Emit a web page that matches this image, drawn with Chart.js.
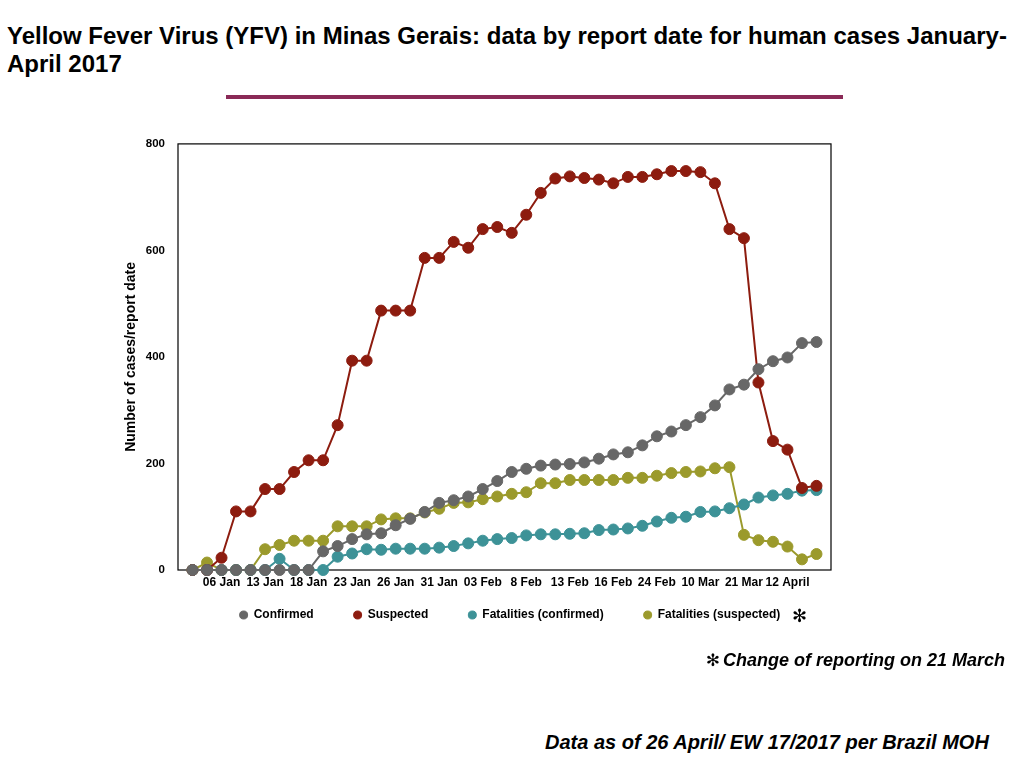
<!DOCTYPE html>
<html>
<head>
<meta charset="utf-8">
<script src="https://cdn.jsdelivr.net/npm/chart.js@4.4.1/dist/chart.umd.min.js"></script>
<style>
  html, body { margin: 0; padding: 0; background: #fff; width: 1024px; height: 768px; overflow: hidden; }
  body { position: relative; font-family: "Liberation Sans", Arial, Helvetica, sans-serif; color: #000; }
  #title { position: absolute; left: 7px; top: 22px; font-size: 24px; line-height: 28px; font-weight: bold; white-space: nowrap; }
  #rule { position: absolute; left: 226px; top: 95px; width: 617px; height: 4px; background: #8a2a57; }
  #chartBox { position: absolute; left: 100px; top: 124px; width: 820px; height: 528px; }
  .ast { font-family: "DejaVu Sans", sans-serif; font-style: normal; font-weight: bold; }
  #legAst { position: absolute; left: 792px; top: 605px; font-size: 18px; line-height: 22px; }
  #note1 { position: absolute; right: 19px; top: 649px; font-size: 18px; line-height: 22px; font-weight: bold; font-style: italic; white-space: nowrap; }
  #note1 .ast { font-size: 17px; margin-right: 3px; }
  #note2 { position: absolute; left: 545px; top: 730px; font-size: 20px; line-height: 24px; font-weight: bold; font-style: italic; white-space: nowrap; }
</style>
</head>
<body>
<div id="title">Yellow Fever Virus (YFV) in Minas Gerais: data by report date for human cases January-<br>April 2017</div>
<div id="rule"></div>
<div id="chartBox"><canvas id="c" width="820" height="528"></canvas></div>
<div id="legAst" class="ast">✻</div>
<div id="note1"><span class="ast">✻</span>Change of reporting on 21 March</div>
<div id="note2">Data as of 26 April/ EW 17/2017 per Brazil MOH</div>
<script>
// Tick labels (one every 3 report dates)
const tickLabels = ['06 Jan','13 Jan','18 Jan','23 Jan','26 Jan','31 Jan','03 Feb','8 Feb','13 Feb','16 Feb','24 Feb','10 Mar','21 Mar','12 April'];
const tickStep = 3;

const seriesNames = ['Confirmed', 'Suspected', 'Fatalities (confirmed)', 'Fatalities (suspected)'];

// Values per report date (44 reports)
const confirmed = [0,0,0,0,0,0,0,0,0,35,45,58,67,69,84,96,109,126,131,138,152,167,184,190,196,198,199,202,209,217,221,234,251,260,272,287,309,339,348,377,392,399,426,428];
const suspected = [0,0,23,110,110,152,152,184,206,206,272,393,393,487,487,487,586,586,616,605,640,644,633,667,708,735,739,736,733,726,738,738,743,749,749,747,726,640,623,352,242,226,154,158];
const fatalConfirmed = [0,0,0,0,0,0,21,0,0,0,25,31,39,38,40,40,40,42,45,50,55,58,60,65,67,67,68,69,75,76,78,83,91,98,100,109,110,116,123,136,140,143,149,150];
const fatalSuspected = [0,14,0,0,0,39,47,55,55,55,82,82,82,95,97,97,108,115,126,127,133,138,143,146,163,163,169,169,169,169,173,173,177,182,184,185,191,193,66,56,53,44,20,30];

const yTicks = { min: 0, max: 800, step: 200 };

const colors = ['#676767', '#8d1c0f', '#3d9297', '#9b9a2c'];
const allSeries = [confirmed, suspected, fatalConfirmed, fatalSuspected];
const nReports = confirmed.length;

const datasets = allSeries.map((vals, si) => ({
  label: seriesNames[si],
  data: vals.map((v, i) => ({ x: i + 1, y: v })),
  borderColor: colors[si],
  backgroundColor: colors[si],
  pointBackgroundColor: colors[si],
  pointBorderColor: colors[si],
  borderWidth: 2,
  pointRadius: 5.5,
  pointBorderWidth: 1,
  pointHoverRadius: 5.5,
  tension: 0,
  clip: false
}));

const boxPlugin = {
  id: 'plotBox',
  beforeDatasetsDraw(chart) {
    const { ctx, chartArea: { left, top, right, bottom } } = chart;
    ctx.save();
    ctx.strokeStyle = '#000';
    ctx.lineWidth = 1.2;
    ctx.strokeRect(left, top, right - left, bottom - top);
    ctx.restore();
  }
};

// Pull the legend row up, closer to the axis labels
const legendShift = {
  id: 'legendShift',
  afterLayout(chart) {
    const lg = chart.legend;
    if (lg) { lg.top -= 21; lg.bottom -= 21; }
  }
};

const F = "'Liberation Sans', Arial, Helvetica, sans-serif";

new Chart(document.getElementById('c'), {
  type: 'line',
  data: { datasets },
  options: {
    responsive: false,
    animation: false,
    events: [],
    layout: { padding: 0 },
    scales: {
      x: {
        type: 'linear',
        min: 0,
        max: nReports + 1,
        grid: { display: false, drawTicks: false },
        border: { display: false },
        ticks: {
          stepSize: tickStep,
          autoSkip: false,
          maxRotation: 0,
          minRotation: 0,
          padding: 5,
          color: '#000',
          font: { family: F, size: 12, weight: 'bold' },
          callback: (v) => {
            const idx = v / tickStep - 1;
            return (Number.isInteger(idx) && idx >= 0 && idx < tickLabels.length) ? tickLabels[idx] : '';
          }
        },
        afterFit: (s) => { s.height = 20; }
      },
      y: {
        min: yTicks.min,
        max: yTicks.max,
        grid: { display: false, drawTicks: false },
        border: { display: false },
        ticks: {
          stepSize: yTicks.step,
          padding: 13,
          color: '#000',
          font: { family: F, size: 11.5, weight: 'bold' }
        },
        title: {
          display: true,
          text: 'Number of cases/report date',
          color: '#000',
          padding: { top: 22.6, bottom: 0 },
          font: { family: F, size: 14, weight: 'bold' }
        },
        afterFit: (s) => { s.width = 78; }
      },
      yPad: {
        type: 'linear',
        position: 'right',
        display: true,
        grid: { display: false, drawTicks: false },
        border: { display: false },
        ticks: { display: false },
        afterFit: (s) => { s.width = 89; }
      }
    },
    plugins: {
      legend: {
        position: 'bottom',
        labels: {
          usePointStyle: true,
          pointStyle: 'circle',
          boxWidth: 8,
          boxHeight: 5.66,
          padding: 40,
          color: '#000',
          font: { family: F, size: 12, weight: 'bold' }
        }
      },
      tooltip: { enabled: false }
    }
  },
  plugins: [boxPlugin, legendShift]
});
</script>
</body>
</html>
